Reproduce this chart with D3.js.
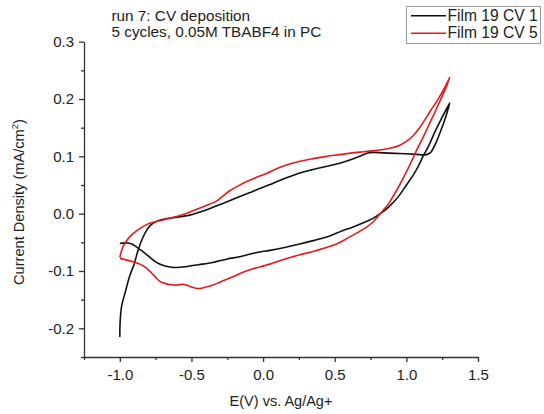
<!DOCTYPE html>
<html>
<head>
<meta charset="utf-8">
<script src="https://cdn.jsdelivr.net/npm/d3@7"></script>
<style>
  html, body { margin: 0; padding: 0; background: #fff; }
  svg { display: block; }
  text { font-family: "Liberation Sans", Arial, Helvetica, sans-serif; fill: #222; }
</style>
</head>
<body>
<svg id="chart" width="544" height="414"></svg>
<script>
// Axis ticks
const xMajorTicks = [-1.0, -0.5, 0.0, 0.5, 1.0, 1.5];
const xMinorTicks = [-1.25, -0.75, -0.25, 0.25, 0.75, 1.25];
const yMajorTicks = [-0.2, -0.1, 0.0, 0.1, 0.2, 0.3];
const yMinorTicks = [-0.25, -0.15, -0.05, 0.05, 0.15, 0.25];

// Legend entries
const seriesNames = ["Film 19 CV 1", "Film 19 CV 5"];

// Annotation text
const noteLines = ["run 7: CV deposition", "5 cycles, 0.05M TBABF4 in PC"];

// Cycle 1: [potential (V vs Ag/Ag+), current density (mA/cm²)] in scan order
const cv1 = [
  [-1.000, -0.215], [-0.998, -0.190], [-0.988, -0.162], [-0.960, -0.135], [-0.930, -0.108],
  [-0.900, -0.088], [-0.875, -0.066], [-0.845, -0.045], [-0.815, -0.030], [-0.785, -0.020],
  [-0.740, -0.013], [-0.680, -0.009], [-0.600, -0.006], [-0.520, -0.003], [-0.440, 0.003],
  [-0.370, 0.009], [-0.300, 0.016], [-0.230, 0.023], [-0.163, 0.030], [-0.090, 0.037],
  [-0.023, 0.044], [0.050, 0.051], [0.116, 0.058], [0.190, 0.065], [0.256, 0.071],
  [0.330, 0.076], [0.400, 0.080], [0.470, 0.084], [0.535, 0.088], [0.600, 0.093],
  [0.675, 0.100], [0.730, 0.106], [0.770, 0.107], [0.840, 0.106], [0.950, 0.105],
  [1.070, 0.1035], [1.140, 0.103], [1.170, 0.107], [1.200, 0.120], [1.230, 0.138],
  [1.260, 0.158], [1.285, 0.177], [1.303, 0.193],
  [1.290, 0.187], [1.245, 0.166], [1.200, 0.143], [1.155, 0.118], [1.120, 0.102],
  [1.090, 0.086], [1.050, 0.068], [1.000, 0.050], [0.960, 0.035], [0.910, 0.020],
  [0.860, 0.008], [0.810, -0.001], [0.760, -0.009], [0.700, -0.016], [0.620, -0.024],
  [0.550, -0.030], [0.465, -0.039], [0.350, -0.047], [0.256, -0.053], [0.150, -0.059],
  [0.047, -0.064], [-0.050, -0.068], [-0.163, -0.075], [-0.250, -0.079], [-0.350, -0.085],
  [-0.450, -0.089], [-0.530, -0.092], [-0.600, -0.094], [-0.650, -0.093], [-0.700, -0.090],
  [-0.750, -0.084], [-0.800, -0.074], [-0.850, -0.064], [-0.885, -0.058], [-0.915, -0.053],
  [-0.945, -0.051], [-0.970, -0.051], [-1.000, -0.052]
];

// Cycle 5
const cv5 = [
  [-1.000, -0.076], [-0.990, -0.066], [-0.977, -0.057], [-0.955, -0.048], [-0.930, -0.040],
  [-0.895, -0.032], [-0.860, -0.026], [-0.820, -0.020], [-0.780, -0.016], [-0.700, -0.011],
  [-0.640, -0.007], [-0.580, -0.003], [-0.510, 0.003], [-0.440, 0.010], [-0.380, 0.016],
  [-0.326, 0.022], [-0.280, 0.031], [-0.233, 0.040], [-0.170, 0.049], [-0.116, 0.056],
  [-0.050, 0.063], [0.023, 0.070], [0.090, 0.078], [0.163, 0.085], [0.250, 0.091],
  [0.349, 0.096], [0.440, 0.100], [0.535, 0.103], [0.620, 0.106], [0.700, 0.108],
  [0.780, 0.110], [0.840, 0.112], [0.900, 0.115], [0.950, 0.119], [1.000, 0.126],
  [1.047, 0.136], [1.090, 0.149], [1.130, 0.164], [1.170, 0.180], [1.210, 0.195],
  [1.250, 0.212], [1.280, 0.226], [1.303, 0.238],
  [1.280, 0.222], [1.250, 0.205], [1.210, 0.183], [1.163, 0.158], [1.120, 0.135],
  [1.070, 0.110], [1.020, 0.083], [0.965, 0.056], [0.930, 0.040], [0.900, 0.027],
  [0.870, 0.015], [0.838, 0.006], [0.800, -0.005], [0.768, -0.014], [0.720, -0.024],
  [0.652, -0.034], [0.580, -0.044], [0.512, -0.053], [0.430, -0.060], [0.349, -0.066],
  [0.250, -0.072], [0.116, -0.082], [0.047, -0.088], [-0.023, -0.093], [-0.070, -0.096],
  [-0.140, -0.102], [-0.210, -0.110], [-0.270, -0.116], [-0.326, -0.122], [-0.372, -0.126],
  [-0.430, -0.130], [-0.465, -0.1305], [-0.500, -0.128], [-0.530, -0.125], [-0.560, -0.123],
  [-0.600, -0.1245], [-0.640, -0.124], [-0.680, -0.122], [-0.720, -0.118], [-0.750, -0.111],
  [-0.780, -0.103], [-0.814, -0.095], [-0.860, -0.088], [-0.907, -0.084], [-0.950, -0.081],
  [-1.000, -0.078]
];

const seriesData = [cv1, cv5];
const seriesColors = ["#111111", "#e8191c"];

const svg = d3.select("#chart");

const plot = { left: 84, right: 478, top: 41.7, bottom: 357 };

const x = d3.scaleLinear().domain([-1.25, 1.5]).range([plot.left, plot.right]);
const y = d3.scaleLinear().domain([-0.25, 0.3]).range([plot.bottom, plot.top]);

const fmt = v => d3.format(".1f")(v).replace("\u2212", "-");

// Minor ticks (no labels)
svg.append("g")
  .attr("transform", `translate(0,${plot.bottom})`)
  .call(d3.axisBottom(x).tickValues(xMinorTicks).tickSize(3).tickFormat(""))
  .call(g => g.select(".domain").remove());
svg.append("g")
  .attr("transform", `translate(${plot.left},0)`)
  .call(d3.axisLeft(y).tickValues(yMinorTicks).tickSize(3).tickFormat(""))
  .call(g => g.select(".domain").remove());

// Major axes
svg.append("g")
  .attr("transform", `translate(0,${plot.bottom})`)
  .call(d3.axisBottom(x).tickValues(xMajorTicks).tickSize(5).tickSizeOuter(0).tickPadding(7).tickFormat(fmt));
svg.append("g")
  .attr("transform", `translate(${plot.left},0)`)
  .call(d3.axisLeft(y).tickValues(yMajorTicks).tickSize(5).tickSizeOuter(0).tickPadding(5).tickFormat(fmt));

svg.selectAll(".tick line, .domain").attr("stroke", "#333").attr("stroke-width", 1.3);
svg.selectAll(".tick text").attr("font-size", 15).attr("fill", "#333")
  .attr("font-family", "'Liberation Sans', Arial, sans-serif");

// Axis titles
svg.append("text")
  .attr("x", (plot.left + plot.right) / 2)
  .attr("y", 406)
  .attr("text-anchor", "middle")
  .attr("font-size", 14.5)
  .text("E(V) vs. Ag/Ag+");

const yTitle = svg.append("text")
  .attr("transform", "translate(24,202) rotate(-90)")
  .attr("text-anchor", "middle")
  .attr("font-size", 14.6);
yTitle.append("tspan").text("Current Density (mA/cm");
yTitle.append("tspan").attr("font-size", 9.5).attr("dy", -6).text("2");
yTitle.append("tspan").attr("dy", 6).text(")");

// Curves
const line = d3.line()
  .x(d => x(d[0]))
  .y(d => y(d[1]))
  .curve(d3.curveCatmullRom.alpha(0.5));

svg.append("g")
  .selectAll("path")
  .data(seriesData)
  .join("path")
  .attr("d", line)
  .attr("fill", "none")
  .attr("stroke", (d, i) => seriesColors[i])
  .attr("stroke-width", 1.6)
  .attr("stroke-linejoin", "round");

// Annotation
svg.append("g")
  .selectAll("text")
  .data(noteLines)
  .join("text")
  .attr("x", 111.5)
  .attr("y", (d, i) => 21 + i * 15.6)
  .attr("font-size", 15.3)
  .text(d => d);

// Legend
const legend = svg.append("g");
legend.append("rect")
  .attr("x", 406.5).attr("y", 6.5)
  .attr("width", 134).attr("height", 37)
  .attr("fill", "#fff")
  .attr("stroke", "#9a9a9a")
  .attr("stroke-width", 1);
const items = legend.selectAll("g.item")
  .data(seriesNames)
  .join("g")
  .attr("class", "item")
  .attr("transform", (d, i) => `translate(0,${15.7 + i * 17.6})`);
items.append("line")
  .attr("x1", 411).attr("x2", 446)
  .attr("y1", 0).attr("y2", 0)
  .attr("stroke", (d, i) => seriesColors[i])
  .attr("stroke-width", 1.6);
items.append("text")
  .attr("x", 447.5)
  .attr("y", 5)
  .attr("font-size", 15.6)
  .text(d => d);
</script>
</body>
</html>
